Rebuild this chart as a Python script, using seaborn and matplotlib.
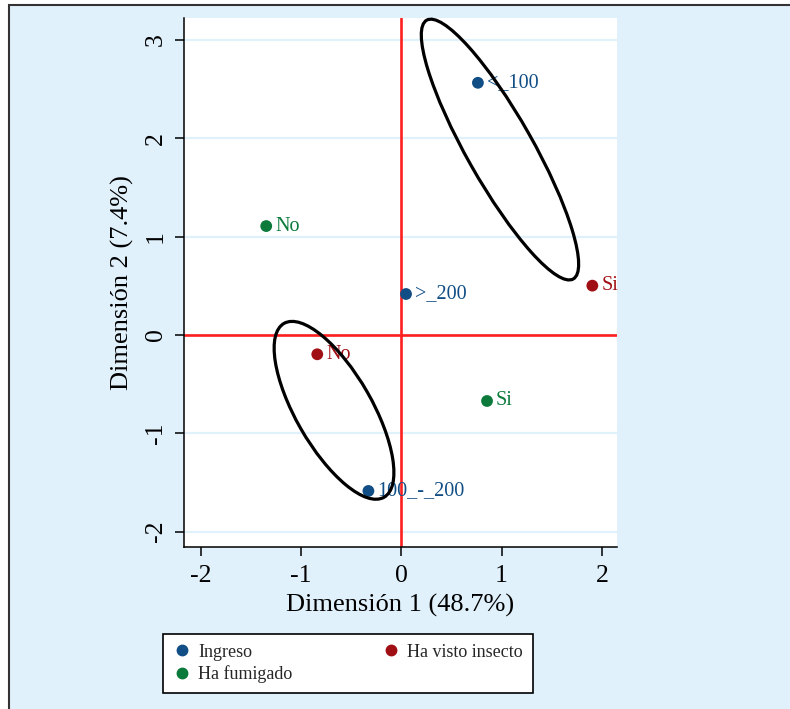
import matplotlib
matplotlib.use("Agg")
import matplotlib.pyplot as plt
from matplotlib.patches import Ellipse, Rectangle
from matplotlib.lines import Line2D
import seaborn as sns
import pandas as pd

# --- DATOS: coordenadas de las categorias (dimension 1, dimension 2) ---
grupos = ["Ingreso", "Ingreso", "Ingreso",
          "Ha visto insecto", "Ha visto insecto",
          "Ha fumigado", "Ha fumigado"]
etiquetas = ["<_100", ">_200", "100_-_200", "Si", "No", "No", "Si"]
dim1 = [0.764, 0.047, -0.328, 1.905, -0.838, -1.347, 0.855]
dim2 = [2.565, 0.417, -1.586, 0.502, -0.196, 1.108, -0.671]

orden_leyenda = ["Ingreso", "Ha fumigado", "Ha visto insecto"]
colores = {"Ingreso": "#114E85", "Ha visto insecto": "#A00F14", "Ha fumigado": "#0B7A3B"}

# elipses: centro, ancho, alto, angulo
elipse_x = [0.984, -0.671]
elipse_y = [1.886, -0.766]
elipse_w = [3.01, 2.03]
elipse_h = [0.66, 0.76]
elipse_ang = [-61.0, -60.7]

xticks = [-2, -1, 0, 1, 2]
yticks = [-2, -1, 0, 1, 2, 3]

AZUL = "#E1F1FB"
ROJO = "#FF1F1F"

sns.set_theme(style="ticks")
plt.rcParams['font.family'] = ['Liberation Serif', 'DejaVu Serif']
plt.rcParams['axes.unicode_minus'] = False

df = pd.DataFrame({"grupo": grupos, "etiqueta": etiquetas, "dim1": dim1, "dim2": dim2})

fig = plt.figure(figsize=(7.9, 7.09), dpi=100, facecolor="white")
# fondo azul con borde (solo se ven el borde izquierdo y el superior)
fondo = Rectangle((9 / 790, -0.05), 1.2, 1 - 5 / 709 + 0.05, transform=fig.transFigure,
                  facecolor=AZUL, edgecolor="#333333", linewidth=1.5, zorder=-10)
fig.patches.append(fondo)

ax = fig.add_axes([184 / 790, 1 - 547 / 709, 433 / 790, 529 / 709])
ax.set_facecolor("white")

ax.set_xlim(-2.167, 2.151)
ax.set_ylim(-2.156, 3.224)
ax.set_xticks(xticks)
ax.set_yticks(yticks)
ax.yaxis.grid(True, color=AZUL, linewidth=1.6)
ax.xaxis.grid(False)
ax.set_axisbelow(True)

# ejes rojos en el origen
ax.axhline(0, color=ROJO, linewidth=1.9, zorder=1.5)
ax.axvline(0, color=ROJO, linewidth=1.9, zorder=1.5)

sns.scatterplot(data=df, x="dim1", y="dim2", hue="grupo", palette=colores,
                s=72, edgecolor="none", legend=False, ax=ax, zorder=3)

for _, fila in df.iterrows():
    ax.annotate(fila["etiqueta"], (fila["dim1"], fila["dim2"]), xytext=(6.5, 0),
                textcoords="offset points", ha="left", va="center",
                fontsize=14.5, color=colores[fila["grupo"]], zorder=3)

for cx, cy, w, h, ang in zip(elipse_x, elipse_y, elipse_w, elipse_h, elipse_ang):
    ax.add_patch(Ellipse((cx, cy), w, h, angle=ang, fill=False, edgecolor="black",
                         linewidth=2.3, zorder=4, clip_on=False))

for lado in ["top", "right"]:
    ax.spines[lado].set_visible(False)
for lado in ["left", "bottom"]:
    ax.spines[lado].set_color("black")
    ax.spines[lado].set_linewidth(1.1)

ax.tick_params(axis="both", length=6.5, width=1.1, color="black", labelsize=18.5,
               pad=6.5, labelcolor="black")
ax.tick_params(axis="y", labelrotation=90, pad=6)
for t in ax.get_yticklabels():
    t.set_va("center")

ax.set_xlabel("Dimensión 1 (48.7%)", fontsize=19, color="black", labelpad=5)
ax.set_ylabel("Dimensión 2 (7.4%)", fontsize=19, color="black", labelpad=8)

manejadores = [Line2D([], [], marker="o", linestyle="", color=colores[g],
                      markersize=7.5, label=g) for g in orden_leyenda]
leg = fig.legend(handles=manejadores, ncol=2, loc="center",
                 bbox_to_anchor=(163 / 790, 1 - 694 / 709, 370 / 790, 61 / 709),
                 mode="expand", frameon=True, fancybox=False, fontsize=13,
                 handletextpad=0.4, borderaxespad=0, labelspacing=0.25,
                 handlelength=1.0, borderpad=0.55)
leg.get_frame().set_edgecolor("black")
leg.get_frame().set_linewidth(1.2)
leg.get_frame().set_facecolor("white")
leg.get_frame().set_alpha(1)

fig.savefig("out.png", dpi=100, facecolor=fig.get_facecolor())
